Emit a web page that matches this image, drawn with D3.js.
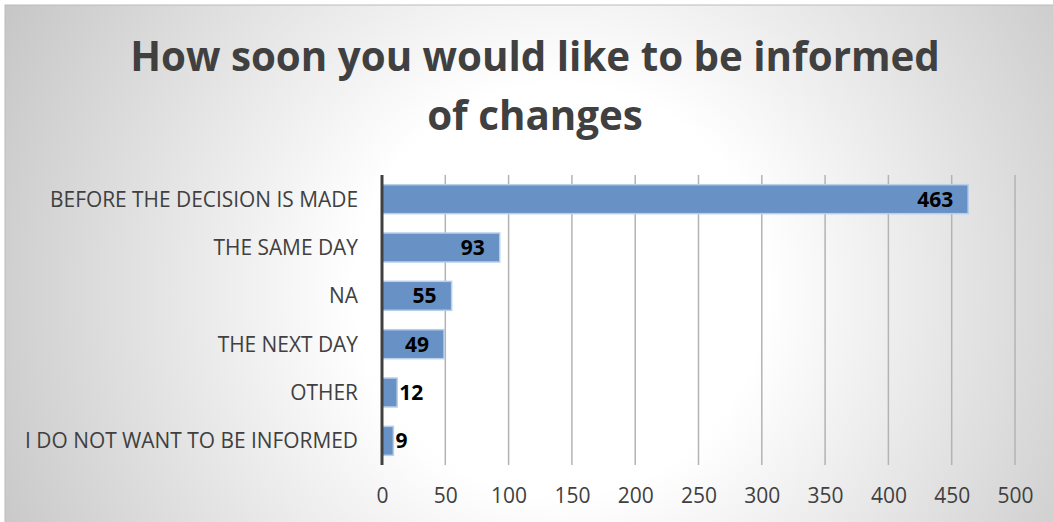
<!DOCTYPE html>
<html>
<head>
<meta charset="utf-8">
<script src="https://cdn.jsdelivr.net/npm/d3@7"></script>
<style>
  html, body { margin: 0; padding: 0; background: #ffffff; }
  svg { display: block; }
</style>
</head>
<body>
<svg id="chart" width="1053" height="522"></svg>
<script>
// Survey answers, top to bottom
const categories = [
  "BEFORE THE DECISION IS MADE",
  "THE SAME DAY",
  "NA",
  "THE NEXT DAY",
  "OTHER",
  "I DO NOT WANT TO BE INFORMED"
];
const counts = [463, 93, 55, 49, 12, 9];
const xTicks = [0, 50, 100, 150, 200, 250, 300, 350, 400, 450, 500];
const titleLines = ["How soon you would like to be informed", "of changes"];

const svg = d3.select("#chart");
const W = 1053, H = 522;
const font = "'Open Sans', 'DejaVu Sans', sans-serif";

// Background: soft radial gray-to-white fill with a thin frame
const defs = svg.append("defs");
const grad = defs.append("radialGradient")
  .attr("id", "bg")
  .attr("gradientUnits", "userSpaceOnUse")
  .attr("cx", 560).attr("cy", 290).attr("r", 640);
grad.append("stop").attr("offset", 0).attr("stop-color", "#ffffff");
grad.append("stop").attr("offset", 0.32).attr("stop-color", "#ffffff");
grad.append("stop").attr("offset", 1).attr("stop-color", "#c4c4c4");

svg.append("rect")
  .attr("x", 5).attr("y", 5)
  .attr("width", W).attr("height", H)
  .attr("fill", "url(#bg)")
  .attr("stroke", "#bcbcbc")
  .attr("stroke-width", 1);

// Title
svg.append("g").selectAll("text")
  .data(titleLines)
  .join("text")
  .attr("x", 535)
  .attr("y", (d, i) => 71 + i * 59)
  .attr("text-anchor", "middle")
  .attr("font-family", font)
  .attr("font-weight", 700)
  .attr("font-size", 40.3)
  .attr("fill", "#404040")
  .text(d => d);

// Scales
const x = d3.scaleLinear().domain([0, 500]).range([382, 1015]);
const y = d3.scaleBand()
  .domain(categories)
  .range([175, 465])
  .paddingInner(0.4)
  .paddingOuter(0.2);

// Vertical gridlines
svg.append("g").selectAll("line")
  .data(xTicks.filter(t => t > 0))
  .join("line")
  .attr("x1", d => x(d)).attr("x2", d => x(d))
  .attr("y1", 175).attr("y2", 465)
  .attr("stroke", "#b3b3b3")
  .attr("stroke-width", 1.5);

// Bottom axis tick labels (no axis line)
const xAxis = d3.axisBottom(x).tickValues(xTicks).tickSize(0).tickPadding(0);
const xg = svg.append("g").attr("transform", "translate(0,488)").call(xAxis);
xg.select(".domain").remove();
xg.selectAll("text")
  .attr("font-family", font)
  .attr("font-size", 21)
  .attr("fill", "#404040")
  .attr("dy", "0.71em");

// Bars
svg.append("g").selectAll("rect")
  .data(counts)
  .join("rect")
  .attr("x", x(0))
  .attr("y", (d, i) => y(categories[i]))
  .attr("width", d => x(d) - x(0))
  .attr("height", y.bandwidth())
  .attr("fill", "#6892c6")
  .attr("stroke", "#b9cfe9")
  .attr("stroke-width", 1.5);

// Category axis on the left
const yAxis = d3.axisLeft(y).tickSize(0).tickPadding(24);
const yg = svg.append("g").attr("transform", `translate(${x(0)},0)`).call(yAxis);
yg.select(".domain").remove();
yg.selectAll("text")
  .attr("font-family", font)
  .attr("font-size", 20.9)
  .attr("fill", "#404040")
  .attr("dy", "0.36em");

svg.append("line")
  .attr("x1", x(0)).attr("x2", x(0))
  .attr("y1", 175).attr("y2", 465)
  .attr("stroke", "#404040")
  .attr("stroke-width", 3);

// Value labels: inside the bar end when there is room, otherwise just past it
const labels = svg.append("g").selectAll("text")
  .data(counts)
  .join("text")
  .attr("font-family", font)
  .attr("font-weight", 700)
  .attr("font-size", 21)
  .attr("fill", "#000000")
  .attr("dy", "0.36em")
  .attr("y", (d, i) => y(categories[i]) + y.bandwidth() / 2)
  .text(d => d);

labels.each(function(d) {
  const w = this.getComputedTextLength();
  const barW = x(d) - x(0);
  const sel = d3.select(this);
  if (barW > w + 24) {
    sel.attr("x", x(d) - 15).attr("text-anchor", "end");
  } else {
    sel.attr("x", x(d) + 2).attr("text-anchor", "start");
  }
});
</script>
</body>
</html>
